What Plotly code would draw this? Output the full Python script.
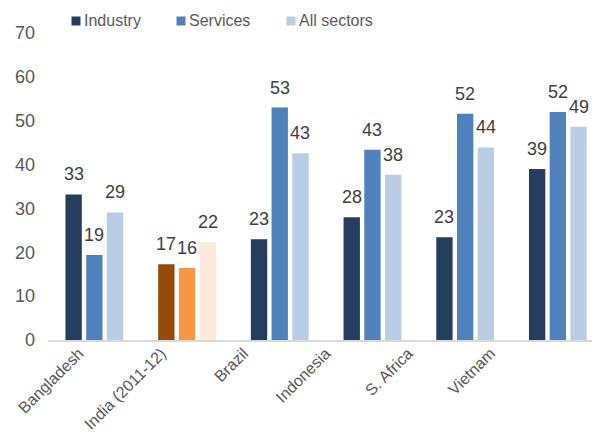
import plotly.graph_objects as go

countries = ["Bangladesh", "India (2011-12)", "Brazil", "Indonesia", "S. Africa", "Vietnam"]
industry = [33.2, 17.3, 23.0, 28.0, 23.4, 39.0]
services = [19.4, 16.4, 53.0, 43.4, 51.6, 52.0]
all_sectors = [29.1, 22.3, 42.6, 37.7, 43.9, 48.6]

series = ["Industry", "Services", "All sectors"]
base_colors = ["#253E5E", "#4F81BD", "#B9CDE5"]
india_colors = ["#984807", "#F79646", "#FDE9D9"]  # India highlighted in oranges

# plot area in pixels (figure is 592 x 448)
L, R, T, B = 48, 0, 33, 108
PW, PH = 592 - L - R, 448 - T - B

fig = go.Figure()
for k, (name, vals) in enumerate(zip(series, [industry, services, all_sectors])):
    cols = [india_colors[k] if c.startswith("India") else base_colors[k] for c in countries]
    fig.add_trace(go.Bar(
        x=countries, y=vals, name=name,
        marker=dict(color=cols, line=dict(width=0)),
        showlegend=False, cliponaxis=False,
    ))
    # value labels, sitting a little above each bar
    for c, v in zip(countries, vals):
        fig.add_annotation(x=c, y=v, xref="x", yref="y", text=f"{v:.0f}",
                           showarrow=False, xshift=(k - 1) * 20.7, yshift=8,
                           yanchor="bottom", font=dict(size=18, color="#404040"))

    # legend: swatch + label
    px = [71.5, 176.5, 286.5][k]
    fig.add_shape(type="rect", xref="paper", yref="paper",
                  x0=(px - L) / PW, x1=(px + 9 - L) / PW,
                  y0=(340 - 25.5) / PH, y1=(340 - 16.5) / PH,
                  fillcolor=base_colors[k], line=dict(width=0))
    fig.add_annotation(xref="paper", yref="paper", x=(px + 10.5 - L) / PW,
                       y=(340 - 21) / PH, xanchor="left", yanchor="middle",
                       text=name, showarrow=False,
                       font=dict(size=16, color="#595959"))

# helper trace so the label axis is drawn
fig.add_trace(go.Scatter(x=[0], y=[0], xaxis="x2", mode="markers",
                         marker=dict(opacity=0), hoverinfo="skip", showlegend=False))

fig.update_layout(
    width=592, height=448,
    margin=dict(l=L, r=R, t=T, b=B, autoexpand=False),
    paper_bgcolor="white", plot_bgcolor="white",
    font=dict(family="Liberation Sans, Arial, sans-serif", color="#595959", size=16),
    barmode="group", bargap=0.33, bargroupgap=0.21,
    showlegend=False,
    xaxis=dict(range=[-0.5, -0.5 + PW / 92.7], showticklabels=False,
               showline=True, linecolor="#D9D9D9", linewidth=2,
               ticks="", showgrid=False),
    xaxis2=dict(overlaying="x", anchor="y", side="bottom", type="linear",
                range=[-31 / 82.3, -31 / 82.3 + PW / 82.3],
                tickvals=list(range(len(countries))), ticktext=countries,
                tickangle=-45, tickfont=dict(size=16, color="#595959"),
                showgrid=False, zeroline=False, showline=False, ticks=""),
    yaxis=dict(range=[0, 70], dtick=10, showgrid=False, zeroline=False,
               tickfont=dict(size=18), ticks="", showline=False,
               ticklabelstandoff=12),
)

fig.write_html("out.html", config={"displayModeBar": False},
               post_script="document.body.style.margin='0';")
